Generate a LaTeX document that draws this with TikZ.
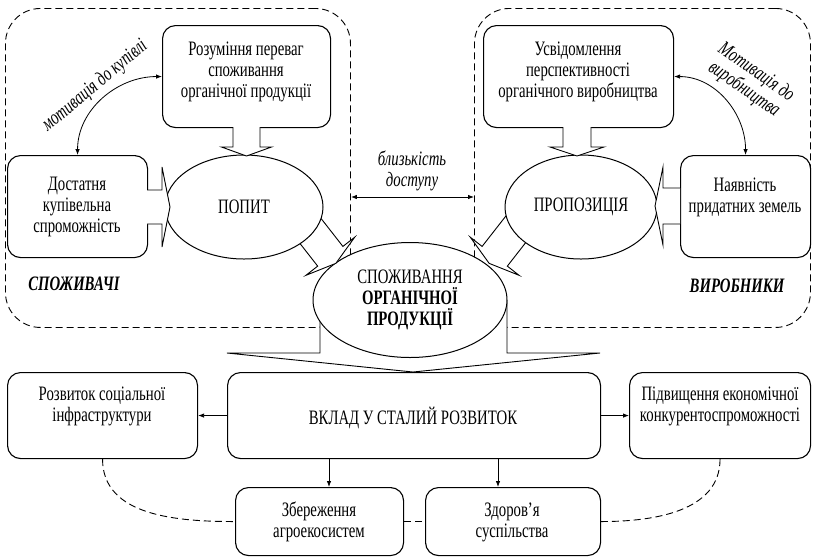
\documentclass[tikz,border=0pt]{standalone}
\usepackage{fontspec}
\setmainfont{Liberation Serif}[FakeStretch=0.72]
\usetikzlibrary{arrows.meta,shapes.geometric}
\newcommand{\dfont}{\fontsize{20.5pt}{21pt}\selectfont}
\newcommand{\blkarrow}[6]{%
  \begin{scope}[shift={#1},rotate=#2]
    \draw[blk] (0,-#4) -- (#3,-#4) -- (#3,-#5) -- ({#3+#6},0) -- (#3,#5) -- (#3,#4) -- (0,#4);
  \end{scope}}
\begin{document}
\begin{tikzpicture}[x=1pt,y=-1pt,
  box/.style={draw, line width=1.1pt, rounded corners=13pt, fill=white, anchor=north west, inner sep=0pt},
  ell/.style={draw, ellipse, line width=1pt, fill=white, inner sep=0pt, align=center, font=\dfont},
  txt/.style={align=center, inner sep=0pt, font=\dfont},
  itxt/.style={align=center, inner sep=0pt, font=\dfont\itshape},
  lbl/.style={inner sep=0pt, font=\dfont\bfseries\itshape},
  blk/.style={draw, line width=0.9pt, fill=white, line join=miter},
  conn/.style={line width=0.8pt, -{Latex[length=6pt,width=4.5pt]}},
  dconn/.style={line width=0.8pt, {Latex[length=6pt,width=4.5pt]}-{Latex[length=6pt,width=4.5pt]}},
  region/.style={draw, line width=0.9pt, dash pattern=on 7pt off 4pt, rounded corners=35pt, anchor=north west, inner sep=0pt},
  dlink/.style={line width=0.9pt, dash pattern=on 7pt off 4pt}]
\useasboundingbox (0,0) rectangle (813,558);

% dashed regions
\node[region, minimum width=345pt, minimum height=319pt] (cons) at (5,8) {};
\node[region, minimum width=336pt, minimum height=319pt] (prod) at (474,8) {};
\node[lbl] (consl) at (74,284) {СПОЖИВАЧІ};
\node[lbl] (prodl) at (737,286) {ВИРОБНИКИ};

% big arrow to the contribution box
\draw[blk] (320,300) -- (320,353) -- (227,353) -- (413,372) -- (600,353) -- (507,353) -- (507,300);

% central ellipse
\node[ell, minimum width=194pt, minimum height=115pt] (cent) at (410,300)
  {СПОЖИВАННЯ\\\textbf{ОРГАНІЧНОЇ}\\\textbf{ПРОДУКЦІЇ}};

% diagonal block arrows
\blkarrow{(303.2,221.6)}{-52}{44}{16}{31}{9}
\blkarrow{(521.8,221.6)}{-128}{44}{16}{31}{9}

% demand / supply ellipses
\node[ell, minimum width=158pt, minimum height=104pt] (popyt) at (244,207) {ПОПИТ};
\node[ell, minimum width=152pt, minimum height=104pt] (propoz) at (581,207) {ПРОПОЗИЦІЯ};

% top boxes
\node[box, minimum width=168pt, minimum height=102pt] (rozum) at (162,25) {};
\node[txt] (rozumt) at (246,72) {Розуміння переваг\\споживання\\органічної продукції};
\node[box, minimum width=140pt, minimum height=102pt] (dost) at (7,155) {};
\node[txt] (dostt) at (77,207) {Достатня\\купівельна\\спроможність};
\node[box, minimum width=190pt, minimum height=102pt] (usv) at (483,25) {};
\node[txt] (usvt) at (578,72) {Усвідомлення\\перспективності\\органічного виробництва};
\node[box, minimum width=130pt, minimum height=102pt] (nay) at (680,155) {};
\node[txt] (nayt) at (745,197) {Наявність\\придатних земель};

% block arrows into ellipses
\blkarrow{(246.5,127)}{-90}{20}{13.5}{25}{9}
\blkarrow{(577,127)}{-90}{20}{14}{27}{9}
\blkarrow{(147,207)}{0}{15}{17}{40}{8}
\blkarrow{(680,206)}{180}{17}{18}{39}{8}

% motivation arrows
\draw[dconn] (dost.north) to[out=90,in=180] (rozum.west);
\node[itxt, rotate=40] (mot1) at (95,86) {мотивація до купівлі};
\draw[dconn] (usv.east) to[out=0,in=90] (nay.north);
\node[itxt, rotate=-35] (mot2) at (750,81) {Мотивація до\\виробництва};

% access arrow
\coordinate (blz) at (0,197);
\draw[dconn] (cons.east |- blz) -- (prod.west |- blz);
\node[itxt] (blzt) at (412,171) {близькість\\доступу};

% bottom boxes
\node[box, minimum width=190pt, minimum height=86pt] (rozv) at (7,372) {};
\node[txt] (rozvt) at (102,406) {Розвиток соціальної\\інфраструктури};
\node[box, minimum width=373pt, minimum height=86pt] (vklad) at (227,372) {};
\node[txt] (vkladt) at (413,418) {ВКЛАД У СТАЛИЙ РОЗВИТОК};
\node[box, minimum width=181pt, minimum height=86pt] (pidv) at (629,372) {};
\node[txt] (pidvt) at (720,406) {Підвищення економічної\\конкурентоспроможності};
\node[box, minimum width=168pt, minimum height=68pt] (zber) at (235,487) {};
\node[txt] (zbert) at (319,522) {Збереження\\агроекосистем};
\node[box, minimum width=175pt, minimum height=68pt] (zdor) at (425,487) {};
\node[txt] (zdort) at (512,522) {Здоров’я\\суспільства};

% bottom connectors
\draw[conn] (vklad.west) -- (rozv.east);
\draw[conn] (vklad.east) -- (pidv.west);
\coordinate (ax1) at (329,0);
\coordinate (ax2) at (498,0);
\draw[conn] (ax1 |- vklad.south) -- (ax1 |- zber.north);
\draw[conn] (ax2 |- vklad.south) -- (ax2 |- zdor.north);
\draw[dlink] (rozv.south) to[out=-90,in=180] (zber.west);
\draw[dlink] (pidv.south) to[out=-90,in=0] (zdor.east);
\draw[dlink] (zber.east) -- (zdor.west);
\end{tikzpicture}
\end{document}
